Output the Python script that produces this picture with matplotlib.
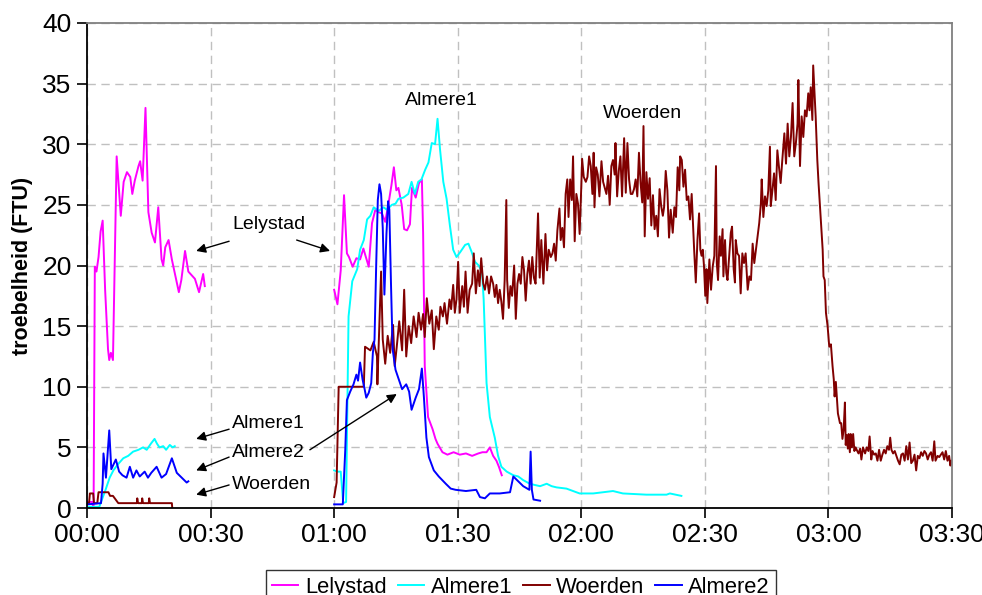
import numpy as np
import matplotlib
matplotlib.use("Agg")
import matplotlib.pyplot as plt
from matplotlib.ticker import FuncFormatter, MultipleLocator

plt.rcParams['font.family'] = ['Liberation Sans', 'DejaVu Sans']

# time in minutes since 00:00, troebelheid in FTU
# --- Lelystad
lely_t1 = [0.0, 1.2, 1.6, 1.9, 2.3, 2.8, 3.3, 3.8, 4.4, 5.1, 5.4, 5.8, 6.3, 7.2, 8.2, 8.9,
           9.7, 10.5, 11.0, 11.6, 12.5, 12.9, 13.5, 14.2, 14.9, 15.7, 16.5, 17.3, 18.1, 18.5,
           19.0, 19.8, 20.6, 22.3, 22.9, 23.8, 24.6, 25.4, 26.2, 27.2, 28.2, 28.6]
lely_v1 = [0.5, 0.5, 0.0, 19.9, 19.5, 20.7, 22.8, 23.7, 18.0, 13.1, 12.2, 12.8, 12.2, 29.0, 24.1, 26.9,
           27.7, 27.3, 25.9, 27.0, 28.2, 28.6, 27.0, 33.0, 24.4, 22.7, 21.9, 24.8, 20.5, 20.0,
           21.5, 22.1, 20.5, 17.8, 18.8, 21.2, 19.5, 19.2, 18.9, 17.8, 19.3, 18.3]
lely_t2 = [60.0, 60.8, 61.6, 62.4, 63.1, 63.6, 64.5, 65.4, 66.3, 67.1, 67.7, 68.4, 69.2, 70.0,
           70.8, 71.6, 72.4, 73.2, 73.9, 74.5, 75.1, 75.6, 76.4, 77.0, 77.7, 78.4, 78.9, 79.8,
           80.6, 81.3, 81.6, 82.0, 82.8, 83.9, 84.6, 85.1, 86.3, 87.5, 89.0, 90.5, 92.0, 93.5,
           95.0, 96.0, 97.0, 97.8, 98.6, 99.4, 100.0, 100.7]
lely_v2 = [18.0, 16.8, 19.6, 25.8, 21.0, 20.7, 19.9, 20.6, 20.5, 21.4, 20.7, 19.9, 23.5, 24.6,
           24.4, 24.3, 23.6, 25.1, 26.6, 28.1, 26.2, 26.4, 25.0, 23.0, 22.9, 23.4, 26.4, 25.6,
           26.8, 27.1, 22.7, 11.7, 7.5, 6.5, 5.7, 5.3, 4.6, 4.4, 4.6, 4.4, 4.5, 4.3,
           4.5, 4.6, 4.6, 5.0, 4.3, 3.9, 3.4, 2.7]

# --- Almere1
alm1_t1 = [0.0, 3.0, 3.2, 4.5, 5.5, 6.4, 7.5, 8.8, 10.0, 11.2, 12.5, 13.6, 14.5, 15.5, 16.4,
           17.0, 17.6, 18.5, 19.2, 20.1, 20.8, 21.3]
alm1_v1 = [0.1, 0.1, 0.3, 1.5, 2.5, 3.1, 3.6, 4.1, 4.3, 4.65, 4.8, 5.0, 4.8, 5.3, 5.7,
           5.3, 5.0, 5.1, 4.8, 5.2, 5.0, 5.1]
alm1_t2 = [60.0, 60.8, 61.6, 62.2, 62.9, 63.5, 64.4, 65.6, 66.3, 67.2, 68.0, 68.8, 69.6, 70.8,
           72.0, 72.8, 74.0, 74.9, 75.6, 76.8, 78.0, 78.8, 79.6, 80.4, 81.2, 82.1, 82.9, 83.7,
           84.5, 85.1, 85.7, 86.5, 87.3, 88.1, 88.9, 89.7, 90.6, 91.8, 92.6, 93.4, 94.2, 95.1,
           95.9, 96.3, 97.0, 97.8, 99.0, 99.8, 100.6, 101.9, 103.5, 104.7, 105.9, 107.5, 108.7,
           110.0, 111.6, 112.8, 114.0, 116.4, 118.0, 119.6, 122.9, 127.7, 130.1, 135.8, 140.7,
           141.5, 144.3]
alm1_v2 = [3.1, 3.0, 3.0, 0.4, 0.5, 15.8, 18.7, 19.7, 21.3, 22.1, 23.8, 24.1, 24.8, 24.5,
           24.8, 24.6, 25.0, 25.1, 25.5, 25.6, 25.9, 26.9, 25.9, 26.9, 27.1, 27.9, 28.5, 30.1,
           30.0, 32.1, 29.6, 26.9, 25.5, 23.3, 21.3, 20.7, 21.1, 21.7, 21.8, 21.1, 20.3, 20.0,
           19.5, 17.2, 10.3, 7.5, 5.8, 4.3, 3.4, 3.0, 2.7, 2.6, 2.3, 2.0, 1.9,
           1.8, 2.0, 1.8, 1.7, 1.6, 1.4, 1.2, 1.2, 1.4, 1.2, 1.1, 1.1,
           1.2, 1.0]

# --- Woerden
woer_t1 = [0.0, 0.5, 0.7, 1.5, 1.7, 2.5, 2.8, 5.2, 5.6, 6.3, 7.6, 12.1, 12.2, 12.4, 13.3,
           13.4, 13.6, 15.0, 15.1, 15.3, 20.6, 20.7]
woer_v1 = [0.4, 0.4, 1.2, 1.2, 0.4, 0.4, 1.3, 1.3, 1.0, 1.0, 0.4, 0.4, 0.8, 0.4, 0.4,
           0.8, 0.4, 0.4, 0.8, 0.4, 0.4, 0.0]
woer_t2 = [60.0, 60.6, 61.1, 67.2, 67.5, 68.8, 69.6, 70.4, 70.5, 71.4, 71.8, 72.4, 73.0, 73.6,
           74.3, 74.7, 75.2, 75.8, 76.5, 77.0, 77.5, 78.1, 78.7, 79.3, 80.0, 80.5, 81.1, 81.6,
           82.0, 82.5, 83.1, 83.7, 84.2, 84.8, 85.4, 85.8, 86.4, 86.8, 87.4, 88.0, 88.4, 88.9,
           89.3, 89.7, 90.1, 90.5, 91.1, 91.5, 91.9, 92.4, 92.9, 93.5, 93.9, 94.4, 94.9, 95.3,
           95.7, 96.2, 96.6, 97.1, 97.6, 98.1, 98.6,
           99.0, 99.4, 99.8, 100.2, 100.6, 101.0, 101.4, 101.8, 102.0, 102.4, 102.8, 103.2, 103.7,
           104.1, 104.5, 104.9, 105.3, 105.7, 106.1, 106.5, 106.9, 107.3, 107.7, 108.1, 108.5,
           108.9, 109.5, 109.9, 110.3, 110.8, 111.3, 111.7, 112.1, 112.6, 113.0, 113.4, 113.8,
           114.2, 114.7, 115.0, 115.4, 115.8, 116.2, 116.6, 116.9, 117.3, 117.7, 118.0, 118.4,
           118.8, 119.2, 119.6, 120.0, 120.2, 120.6, 121.1, 121.5, 121.9, 122.3, 122.7, 123.0,
           123.2, 123.6, 124.0, 124.4, 124.9, 125.3, 125.7, 126.1, 126.5, 126.9, 127.3, 127.7,
           128.1, 128.3, 128.7, 129.1, 129.5, 129.9, 130.4, 130.8, 131.2, 131.6, 132.0, 132.4,
           132.8, 133.2, 133.6, 134.0, 134.4, 134.8, 135.1, 135.4, 135.8, 136.2, 136.6, 137.0,
           137.4, 137.8, 138.2, 138.6, 139.0, 139.4, 139.8,
           140.1, 140.5, 140.9, 141.3, 141.7, 142.2, 142.6, 143.0, 143.4, 143.8, 144.0, 144.4,
           144.8, 145.2, 145.6, 146.0, 146.4, 146.8, 147.1, 147.4, 147.8, 148.2, 148.6, 148.9,
           149.2, 149.5, 149.8, 150.1, 150.4, 150.6, 151.1, 151.5, 151.9, 152.3, 152.7, 152.9,
           153.2, 153.6, 153.9, 154.3, 154.5, 154.9, 155.2, 155.5, 155.9, 156.3, 156.6, 157.0,
           157.3, 157.5, 157.9, 158.3, 158.7, 159.1, 159.5, 159.9, 160.4, 160.8, 161.2, 161.6,
           162.0, 162.4, 162.8, 163.2, 163.6, 163.8, 164.2, 164.6, 165.0, 165.4, 165.8, 166.0,
           166.4, 166.8, 167.2, 167.6, 168.0, 168.4, 168.8, 169.3, 169.7, 170.1, 170.5, 170.9,
           171.3, 171.7, 172.1, 172.5, 172.7, 173.1, 173.5, 173.9, 174.3, 174.7, 175.1, 175.4,
           175.7, 176.1, 176.3, 176.6, 176.9, 177.3, 177.6, 177.9, 178.2, 178.6, 178.8, 179.1,
           179.4, 179.8,
           180.2, 180.6, 181.0, 181.3, 181.5, 181.8, 182.0, 182.3, 182.8, 183.1, 183.4, 183.7,
           184.0, 184.2, 184.4, 184.7, 184.9, 185.2, 185.4, 185.7, 186.0, 186.3, 186.6, 187.0,
           187.3, 187.7, 188.0, 188.4, 188.9, 189.3, 189.7, 190.0, 190.4, 190.7, 191.1, 191.5,
           191.9, 192.3, 192.7, 193.1, 193.5, 193.9, 194.3, 194.7, 195.0, 195.3, 195.7, 196.1,
           196.5, 196.9, 197.3, 197.7, 198.1, 198.5, 198.9, 199.3, 199.7, 200.1, 200.5, 200.9,
           201.3, 201.7, 202.1, 202.5, 202.9, 203.3, 203.7, 204.1, 204.5, 204.9, 205.3, 205.7,
           206.0, 206.5, 206.9, 207.3, 207.7, 208.1, 208.5, 208.9, 209.3, 209.6, 209.9]
woer_v2 = [0.9, 2.1, 10.0, 10.0, 13.3, 13.0, 13.7, 12.5, 10.2, 19.5, 13.9, 11.9, 14.2, 12.8,
           15.1, 11.7, 13.3, 15.4, 13.0, 18.0, 12.5, 15.0, 13.6, 15.8, 14.1, 16.1, 14.7, 16.0,
           14.1, 17.3, 15.2, 16.3, 13.1, 15.8, 14.7, 16.6, 15.8, 16.9, 15.2, 17.2, 16.4, 18.4,
           16.1, 17.2, 20.3, 16.1, 18.3, 16.6, 19.5, 16.1, 18.0, 18.5, 21.0, 17.7, 19.6, 18.3,
           20.6, 18.5, 18.0, 19.1, 17.7, 19.1, 18.5,
           17.4, 18.4, 16.9, 18.0, 17.0, 15.6, 18.8, 25.4, 18.8, 16.5, 18.3, 17.5, 20.0,
           15.6, 18.5, 19.3, 18.5, 20.7, 19.6, 17.1, 19.3, 20.4, 18.5, 20.7, 19.0,
           18.5, 24.3, 19.0, 22.1, 18.5, 22.6, 19.6, 21.3, 20.7, 21.0, 21.8, 20.4,
           22.9, 24.7, 22.1, 23.1, 21.5, 25.9, 27.1, 24.0, 27.1, 25.4, 29.0, 22.0,
           25.9, 25.1, 22.6, 26.5, 28.8, 27.3, 26.9, 27.3, 29.0, 28.2, 25.9, 29.3,
           24.8, 28.1, 27.5, 25.7, 28.6, 26.9, 26.4, 25.9, 27.4, 25.0, 28.2, 28.7,
           27.5, 30.1, 25.7, 27.8, 29.0, 25.7, 30.5, 26.0, 30.1, 27.1, 25.9, 25.9,
           26.3, 27.1, 25.7, 29.3, 26.8, 25.2, 31.5, 22.4, 27.7, 25.5, 27.2, 23.3,
           25.8, 23.0, 24.1, 22.4, 26.3, 24.9, 24.1,
           24.8, 27.8, 26.2, 22.3, 24.6, 22.7, 24.8, 24.0, 28.1, 26.2, 29.0, 28.7,
           26.5, 27.9, 25.4, 25.7, 23.8, 25.9, 23.5, 21.3, 18.6, 22.1, 24.3, 21.3,
           20.8, 21.3, 19.9, 17.5, 19.7, 16.9, 20.5, 18.0, 19.9, 20.8, 28.2, 20.2,
           18.8, 22.4, 20.8, 23.0, 19.1, 22.1, 19.4, 18.8, 20.8, 22.7, 23.2, 19.7,
           18.6, 22.1, 21.0, 20.8, 17.7, 21.0, 20.2, 21.0, 18.0, 19.1, 18.8, 21.8,
           20.2, 21.3, 22.4, 23.5, 25.1, 27.1, 24.0, 25.7, 24.9, 26.2, 29.8, 24.9,
           26.2, 27.6, 25.4, 29.5, 28.1, 26.8, 28.7, 30.9, 28.4, 31.7, 29.0, 30.6,
           33.4, 29.0, 30.1, 31.7, 35.3, 28.2, 32.3, 30.6, 32.8, 32.3, 34.2, 32.8,
           34.7, 32.0, 36.5, 34.4, 32.3, 28.7, 26.8, 25.1, 23.5, 21.3, 19.1, 18.8,
           16.1, 15.0,
           13.3, 13.5, 11.7, 10.6, 9.2, 10.4, 9.4, 7.8, 7.0, 7.0, 5.7, 6.5,
           8.7, 5.2, 6.0, 4.9, 6.1, 4.6, 6.1, 5.0, 6.1, 4.7, 5.0, 4.7,
           4.5, 4.9, 4.0, 5.0, 4.5, 5.0, 4.7, 5.9, 4.0, 4.7, 4.4, 4.5,
           3.9, 4.8, 3.9, 4.4, 4.8, 4.5, 5.1, 4.8, 5.8, 4.8, 4.5, 4.7,
           4.3, 3.9, 3.6, 4.4, 4.5, 3.9, 5.1, 4.0, 5.4, 3.7, 3.9, 4.4,
           3.1, 4.3, 4.1, 4.6, 4.3, 4.7, 4.5, 4.0, 4.4, 4.6, 3.9, 5.5,
           3.9, 4.3, 4.2, 4.4, 4.6, 4.0, 4.7, 3.9, 4.3, 3.5, 3.9]

# --- Almere2
alm2_t1 = [0.0, 3.4, 3.8, 4.0, 4.6, 5.4, 5.9, 7.0, 7.8, 8.6, 9.6, 10.4, 11.2, 12.0, 12.8,
           14.0, 14.8, 15.6, 16.9, 18.1, 19.2, 20.6, 21.8, 23.0, 24.2, 24.6]
alm2_v1 = [0.3, 0.4, 2.0, 4.5, 2.5, 6.4, 3.2, 4.0, 3.0, 2.7, 2.5, 3.4, 2.5, 3.1, 2.6,
           3.0, 2.5, 2.9, 3.4, 2.5, 2.8, 4.1, 2.9, 2.5, 2.1, 2.2]
alm2_t2 = [60.0, 62.1, 62.7, 63.1, 63.9, 64.7, 65.4, 65.8, 66.3, 66.9, 67.4, 67.8, 68.4, 69.0,
           69.4, 69.8, 70.2, 70.6, 71.0, 71.4, 71.8, 72.2, 72.7, 73.1, 73.4, 73.8, 74.2, 74.9,
           75.7, 76.5, 77.5, 78.2, 78.8, 79.8, 80.6, 81.3, 81.8, 82.4, 83.0, 84.2, 85.4, 87.1,
           88.3, 89.5, 92.0, 94.5, 95.4, 96.6, 97.8, 100.2, 102.7, 103.5, 104.7, 105.9, 107.4,
           107.7, 108.0, 108.4, 110.0]
alm2_v2 = [0.3, 0.3, 4.8, 8.9, 9.6, 10.2, 11.0, 10.5, 12.0, 10.6, 9.8, 9.1, 9.5, 10.3,
           12.8, 13.9, 19.9, 25.4, 26.7, 25.9, 23.1, 17.6, 22.6, 25.3, 24.6, 18.5, 13.1, 11.4,
           10.6, 9.8, 10.2, 9.6, 8.1, 9.1, 9.8, 11.5, 9.1, 5.8, 4.2, 3.1, 2.6, 2.0,
           1.6, 1.5, 1.4, 1.5, 0.9, 0.8, 1.2, 1.2, 1.3, 2.6, 2.2, 1.8, 1.5,
           4.65, 1.5, 0.7, 0.6]

colors = {'Lelystad': '#FF00FF', 'Almere1': '#00FFFF',
          'Woerden': '#800000', 'Almere2': '#0000FF'}
series = [('Lelystad', lely_t1, lely_v1, lely_t2, lely_v2),
          ('Almere1', alm1_t1, alm1_v1, alm1_t2, alm1_v2),
          ('Woerden', woer_t1, woer_v1, woer_t2, woer_v2),
          ('Almere2', alm2_t1, alm2_v1, alm2_t2, alm2_v2)]

fig = plt.figure(figsize=(9.82, 5.95), dpi=100)
ax = fig.add_axes([87 / 982, 1 - 508 / 595, 865 / 982, 485 / 595])

for name, t1, v1, t2, v2 in series:
    # two measuring runs, gap in between
    t = list(t1) + [np.nan] + list(t2)
    v = list(v1) + [np.nan] + list(v2)
    ax.plot(t, v, color=colors[name], lw=1.4, label=name)

ax.set_xlim(0, 210)
ax.set_ylim(0, 40)
ax.xaxis.set_major_locator(MultipleLocator(30))
ax.yaxis.set_major_locator(MultipleLocator(5))
ax.xaxis.set_major_formatter(FuncFormatter(lambda m, pos: "%02d:%02d" % (int(m) // 60, int(m) % 60)))
ax.grid(True, color='#c0c0c0', linestyle=(0, (6, 4)), lw=1)
ax.set_axisbelow(True)
ax.tick_params(direction='out', length=7, width=1.2, labelsize=19, pad=4)

for side in ['left', 'bottom']:
    ax.spines[side].set_color('black')
    ax.spines[side].set_linewidth(1.3)
for side in ['top', 'right']:
    ax.spines[side].set_color('#808080')
    ax.spines[side].set_linewidth(1.3)

ax.set_ylabel('troebelheid (FTU)', fontsize=15.5, fontweight='bold', labelpad=7)

# labels with arrows
arrow = dict(arrowstyle='-|>', color='black', lw=1, mutation_scale=14, shrinkA=0, shrinkB=0)
fs = 14
ax.text(44.1, 23.4, 'Lelystad', fontsize=fs, ha='center', va='center')
ax.annotate('', xy=(26.5, 21.2), xytext=(34.5, 22.0), arrowprops=arrow)
ax.annotate('', xy=(59.0, 21.2), xytext=(50.9, 22.1), arrowprops=arrow)

ax.text(35.3, 7.0, 'Almere1', fontsize=fs, ha='left', va='center')
ax.annotate('', xy=(26.5, 5.7), xytext=(34.5, 6.5), arrowprops=arrow)
ax.text(35.3, 4.6, 'Almere2', fontsize=fs, ha='left', va='center')
ax.annotate('', xy=(26.5, 3.1), xytext=(34.5, 4.2), arrowprops=arrow)
ax.annotate('', xy=(75.2, 9.4), xytext=(54.1, 4.8), arrowprops=arrow)
ax.text(35.3, 1.9, 'Woerden', fontsize=fs, ha='left', va='center')
ax.annotate('', xy=(26.5, 1.1), xytext=(34.5, 1.9), arrowprops=arrow)

ax.text(86.0, 33.6, 'Almere1', fontsize=fs, ha='center', va='center')
ax.text(134.9, 32.5, 'Woerden', fontsize=fs, ha='center', va='center')

# legend box hangs off the lower edge of the figure
leg = fig.legend(loc='upper center', bbox_to_anchor=(521 / 982, 1 - 570 / 595), ncol=4,
                 fontsize=15.8, frameon=True, fancybox=False, edgecolor='black',
                 handlelength=1.2, handletextpad=0.3, columnspacing=0.5, borderpad=0.3,
                 borderaxespad=0)
leg.get_frame().set_linewidth(1)

fig.savefig('out.png', dpi=100)
